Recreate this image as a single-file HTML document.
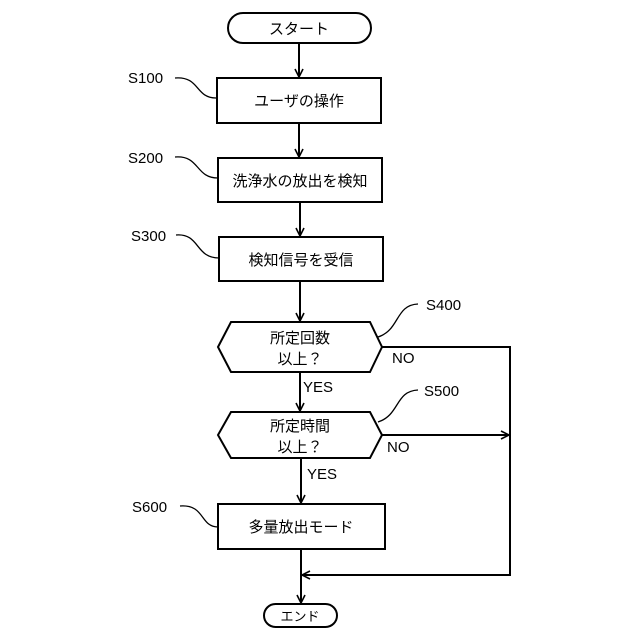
<!DOCTYPE html>
<html><head><meta charset="utf-8"><style>body{margin:0;background:#fff}svg{display:block}</style></head>
<body>
<svg width="640" height="640" viewBox="0 0 640 640" xmlns="http://www.w3.org/2000/svg" font-family="Liberation Sans, Noto Sans CJK JP, sans-serif" fill="none" stroke="#000" stroke-width="2">
<defs><marker id="a" markerWidth="10" markerHeight="10" refX="9" refY="5" orient="auto" markerUnits="userSpaceOnUse"><path d="M1,1 L9,5 L1,9" fill="none" stroke="#000" stroke-width="1.6"/></marker></defs>
<rect x="228" y="13" width="143" height="30" rx="15"/>
<rect x="217" y="78" width="164" height="45"/>
<rect x="218" y="158" width="164" height="44"/>
<rect x="219" y="237" width="164" height="44"/>
<polygon points="218,347 231,322 370,322 382,347 370,372 231,372"/>
<polygon points="218,435 231,412 370,412 382,435 370,458 231,458"/>
<rect x="218" y="504" width="167" height="45"/>
<rect x="264" y="604" width="73" height="23" rx="11.5"/>
<line x1="299" y1="43" x2="299" y2="77" marker-end="url(#a)"/>
<line x1="299" y1="123" x2="299" y2="157" marker-end="url(#a)"/>
<line x1="300" y1="202" x2="300" y2="236" marker-end="url(#a)"/>
<line x1="300" y1="281" x2="300" y2="321" marker-end="url(#a)"/>
<line x1="300" y1="372" x2="300" y2="411" marker-end="url(#a)"/>
<line x1="301" y1="458" x2="301" y2="503" marker-end="url(#a)"/>
<line x1="301" y1="549" x2="301" y2="603" marker-end="url(#a)"/>
<polyline points="382,347 510,347 510,575 302,575" marker-end="url(#a)"/>
<line x1="382" y1="435" x2="509" y2="435" marker-end="url(#a)"/>
<g stroke-width="1.3">
<path d="M175,78 C200,76 195,98 216,98"/>
<path d="M175,157 C200,155 195,178 218,178"/>
<path d="M176,235 C200,233 195,258 219,258"/>
<path d="M180,506 C205,504 200,527 218,527"/>
<path d="M378,337 C400,330 395,305 418,304"/>
<path d="M378,422 C400,415 395,391 418,390"/>
</g>
<g fill="#000" stroke="none" font-size="15" text-anchor="middle">
<text x="299" y="34">スタート</text>
<text x="299" y="106">ユーザの操作</text>
<text x="300" y="186">洗浄水の放出を検知</text>
<text x="301" y="265">検知信号を受信</text>
<text x="300" y="343">所定回数</text>
<text x="300" y="364">以上？</text>
<text x="300" y="431">所定時間</text>
<text x="300" y="452">以上？</text>
<text x="301" y="532">多量放出モード</text>
<text x="300" y="621" font-size="13">エンド</text>
</g>
<g fill="#000" stroke="none" font-size="15">
<text x="128" y="83">S100</text>
<text x="128" y="163">S200</text>
<text x="131" y="241">S300</text>
<text x="132" y="512">S600</text>
<text x="426" y="310">S400</text>
<text x="424" y="396">S500</text>
<text x="392" y="363">NO</text>
<text x="387" y="452">NO</text>
<text x="303" y="392">YES</text>
<text x="307" y="479">YES</text>
</g>
</svg>
</body></html>
